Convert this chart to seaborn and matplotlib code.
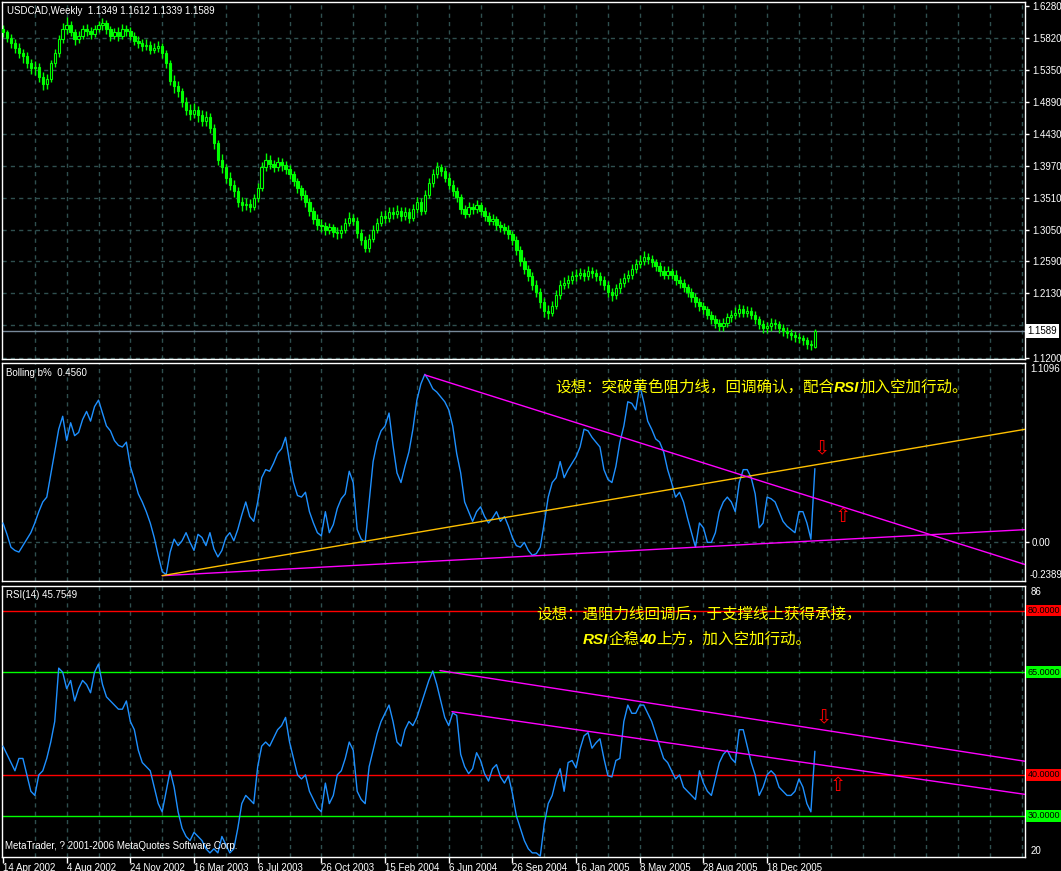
import numpy as np
import pandas as pd
import matplotlib
matplotlib.use("Agg")
import matplotlib.pyplot as plt
import seaborn as sns

# ---------------- data ----------------
title_text = "USDCAD,Weekly  1.1349 1.1612 1.1339 1.1589"
bb_title = "Bolling b%  0.4560"
rsi_title = "RSI(14) 45.7549"
copyright_text = "MetaTrader, ? 2001-2006 MetaQuotes Software Corp."

date_labels = ["14 Apr 2002", "4 Aug 2002", "24 Nov 2002", "16 Mar 2003", "6 Jul 2003",
               "26 Oct 2003", "15 Feb 2004", "6 Jun 2004", "26 Sep 2004", "16 Jan 2005",
               "8 May 2005", "28 Aug 2005", "18 Dec 2005"]
date_label_weeks = [0, 16, 32, 48, 64, 80, 96, 112, 128, 144, 160, 176, 192]

opens = [
    1.595, 1.590, 1.582, 1.575, 1.568, 1.560, 1.556, 1.546, 1.538, 1.540,
    1.525, 1.515, 1.522, 1.545, 1.560, 1.580, 1.595, 1.600, 1.590, 1.580,
    1.585, 1.595, 1.592, 1.588, 1.595, 1.600, 1.603, 1.595, 1.585, 1.590,
    1.585, 1.595, 1.592, 1.585, 1.578, 1.575, 1.570, 1.572, 1.565, 1.568,
    1.570, 1.560, 1.545, 1.520, 1.512, 1.505, 1.490, 1.478, 1.472, 1.478,
    1.470, 1.462, 1.468, 1.452, 1.430, 1.405, 1.395, 1.380, 1.370, 1.360,
    1.345, 1.340, 1.342, 1.338, 1.350, 1.365, 1.395, 1.405, 1.400, 1.395,
    1.402, 1.398, 1.392, 1.385, 1.375, 1.365, 1.355, 1.345, 1.332, 1.320,
    1.312, 1.310, 1.305, 1.308, 1.302, 1.300, 1.305, 1.315, 1.322, 1.318,
    1.300, 1.290, 1.278, 1.292, 1.305, 1.315, 1.325, 1.322, 1.330, 1.328,
    1.332, 1.325, 1.330, 1.322, 1.335, 1.345, 1.332, 1.355, 1.372, 1.385,
    1.395, 1.390, 1.380, 1.370, 1.360, 1.352, 1.335, 1.328, 1.338, 1.335,
    1.340, 1.332, 1.325, 1.318, 1.320, 1.312, 1.308, 1.305, 1.298, 1.290,
    1.275, 1.260, 1.248, 1.238, 1.225, 1.215, 1.200, 1.188, 1.185, 1.195,
    1.210, 1.225, 1.228, 1.232, 1.238, 1.240, 1.242, 1.238, 1.245, 1.242,
    1.238, 1.232, 1.225, 1.215, 1.210, 1.220, 1.228, 1.235, 1.240, 1.248,
    1.255, 1.260, 1.265, 1.262, 1.258, 1.252, 1.245, 1.240, 1.245, 1.240,
    1.232, 1.228, 1.222, 1.215, 1.208, 1.200, 1.195, 1.190, 1.182, 1.175,
    1.170, 1.165, 1.170, 1.178, 1.182, 1.185, 1.190, 1.185, 1.188, 1.182,
    1.175, 1.168, 1.162, 1.165, 1.170, 1.168, 1.162, 1.158, 1.155, 1.152,
    1.150, 1.148, 1.145, 1.140, 1.1349]

highs = [
    1.600, 1.594, 1.588, 1.580, 1.574, 1.566, 1.562, 1.552, 1.549, 1.546,
    1.532, 1.530, 1.550, 1.566, 1.586, 1.603, 1.612, 1.606, 1.595, 1.592,
    1.600, 1.602, 1.598, 1.601, 1.607, 1.610, 1.608, 1.599, 1.596, 1.597,
    1.602, 1.600, 1.597, 1.590, 1.585, 1.581, 1.580, 1.577, 1.575, 1.578,
    1.575, 1.565, 1.550, 1.528, 1.520, 1.510, 1.496, 1.486, 1.488, 1.484,
    1.477, 1.476, 1.474, 1.458, 1.435, 1.414, 1.400, 1.388, 1.376, 1.366,
    1.352, 1.350, 1.349, 1.357, 1.372, 1.402, 1.416, 1.412, 1.406, 1.410,
    1.408, 1.404, 1.398, 1.390, 1.380, 1.370, 1.362, 1.350, 1.338, 1.327,
    1.320, 1.316, 1.315, 1.313, 1.309, 1.312, 1.322, 1.330, 1.328, 1.323,
    1.306, 1.295, 1.298, 1.312, 1.322, 1.332, 1.333, 1.337, 1.338, 1.340,
    1.338, 1.337, 1.336, 1.342, 1.352, 1.350, 1.362, 1.380, 1.392, 1.403,
    1.400, 1.395, 1.386, 1.376, 1.367, 1.357, 1.341, 1.345, 1.344, 1.347,
    1.345, 1.338, 1.331, 1.327, 1.325, 1.318, 1.314, 1.311, 1.303, 1.295,
    1.281, 1.266, 1.254, 1.243, 1.232, 1.220, 1.206, 1.196, 1.202, 1.217,
    1.232, 1.236, 1.240, 1.245, 1.248, 1.250, 1.248, 1.252, 1.251, 1.248,
    1.243, 1.238, 1.230, 1.221, 1.226, 1.235, 1.242, 1.247, 1.255, 1.262,
    1.268, 1.274, 1.271, 1.268, 1.263, 1.258, 1.252, 1.252, 1.250, 1.246,
    1.238, 1.233, 1.227, 1.220, 1.213, 1.206, 1.201, 1.195, 1.188, 1.181,
    1.176, 1.177, 1.185, 1.189, 1.193, 1.198, 1.196, 1.195, 1.193, 1.187,
    1.180, 1.174, 1.172, 1.177, 1.176, 1.173, 1.168, 1.164, 1.161, 1.158,
    1.156, 1.153, 1.150, 1.146, 1.1612]

lows = [
    1.583, 1.576, 1.568, 1.560, 1.553, 1.545, 1.538, 1.530, 1.528, 1.518,
    1.506, 1.508, 1.518, 1.540, 1.555, 1.575, 1.588, 1.584, 1.572, 1.574,
    1.580, 1.585, 1.580, 1.583, 1.590, 1.594, 1.588, 1.578, 1.580, 1.578,
    1.581, 1.585, 1.579, 1.572, 1.568, 1.563, 1.564, 1.558, 1.560, 1.561,
    1.553, 1.538, 1.514, 1.503, 1.497, 1.482, 1.470, 1.463, 1.466, 1.461,
    1.455, 1.455, 1.445, 1.422, 1.398, 1.386, 1.372, 1.362, 1.352, 1.338,
    1.332, 1.333, 1.330, 1.333, 1.345, 1.360, 1.390, 1.392, 1.388, 1.389,
    1.390, 1.385, 1.378, 1.368, 1.358, 1.348, 1.338, 1.325, 1.313, 1.304,
    1.302, 1.297, 1.298, 1.294, 1.292, 1.293, 1.300, 1.310, 1.311, 1.293,
    1.282, 1.272, 1.273, 1.287, 1.300, 1.310, 1.315, 1.316, 1.320, 1.321,
    1.318, 1.319, 1.315, 1.317, 1.329, 1.326, 1.328, 1.350, 1.367, 1.380,
    1.383, 1.373, 1.363, 1.353, 1.345, 1.328, 1.321, 1.323, 1.328, 1.329,
    1.326, 1.318, 1.311, 1.312, 1.305, 1.301, 1.298, 1.291, 1.283, 1.268,
    1.253, 1.241, 1.231, 1.218, 1.208, 1.192, 1.178, 1.175, 1.180, 1.190,
    1.205, 1.219, 1.221, 1.226, 1.230, 1.233, 1.231, 1.232, 1.235, 1.231,
    1.225, 1.218, 1.208, 1.202, 1.204, 1.214, 1.222, 1.229, 1.234, 1.242,
    1.249, 1.254, 1.255, 1.251, 1.245, 1.238, 1.233, 1.233, 1.233, 1.225,
    1.221, 1.215, 1.208, 1.201, 1.193, 1.188, 1.183, 1.175, 1.168, 1.163,
    1.158, 1.159, 1.164, 1.172, 1.176, 1.179, 1.178, 1.179, 1.175, 1.168,
    1.161, 1.155, 1.156, 1.159, 1.161, 1.155, 1.151, 1.148, 1.145, 1.143,
    1.141, 1.138, 1.133, 1.131, 1.1339]

closes = [
    1.590, 1.582, 1.575, 1.568, 1.560, 1.556, 1.546, 1.538, 1.540, 1.525,
    1.515, 1.522, 1.545, 1.560, 1.580, 1.595, 1.600, 1.590, 1.580, 1.585,
    1.595, 1.592, 1.588, 1.595, 1.600, 1.603, 1.595, 1.585, 1.590, 1.585,
    1.595, 1.592, 1.585, 1.578, 1.575, 1.570, 1.572, 1.565, 1.568, 1.570,
    1.560, 1.545, 1.520, 1.512, 1.505, 1.490, 1.478, 1.472, 1.478, 1.470,
    1.462, 1.468, 1.452, 1.430, 1.405, 1.395, 1.380, 1.370, 1.360, 1.345,
    1.340, 1.342, 1.338, 1.350, 1.365, 1.395, 1.405, 1.400, 1.395, 1.402,
    1.398, 1.392, 1.385, 1.375, 1.365, 1.355, 1.345, 1.332, 1.320, 1.312,
    1.310, 1.305, 1.308, 1.302, 1.300, 1.305, 1.315, 1.322, 1.318, 1.300,
    1.290, 1.278, 1.292, 1.305, 1.315, 1.325, 1.322, 1.330, 1.328, 1.332,
    1.325, 1.330, 1.322, 1.335, 1.345, 1.332, 1.355, 1.372, 1.385, 1.395,
    1.390, 1.380, 1.370, 1.360, 1.352, 1.335, 1.328, 1.338, 1.335, 1.340,
    1.332, 1.325, 1.318, 1.320, 1.312, 1.308, 1.305, 1.298, 1.290, 1.275,
    1.260, 1.248, 1.238, 1.225, 1.215, 1.200, 1.188, 1.185, 1.195, 1.210,
    1.225, 1.228, 1.232, 1.238, 1.240, 1.242, 1.238, 1.245, 1.242, 1.238,
    1.232, 1.225, 1.215, 1.210, 1.220, 1.228, 1.235, 1.240, 1.248, 1.255,
    1.260, 1.265, 1.262, 1.258, 1.252, 1.245, 1.240, 1.245, 1.240, 1.232,
    1.228, 1.222, 1.215, 1.208, 1.200, 1.195, 1.190, 1.182, 1.175, 1.170,
    1.165, 1.170, 1.178, 1.182, 1.185, 1.190, 1.185, 1.188, 1.182, 1.175,
    1.168, 1.162, 1.165, 1.170, 1.168, 1.162, 1.158, 1.155, 1.152, 1.150,
    1.148, 1.145, 1.140, 1.138, 1.1589]

bpct = [
    0.12, 0.05, -0.03, -0.05, -0.06, -0.02, 0.02, 0.06, 0.12, 0.19,
    0.25, 0.28, 0.42, 0.56, 0.70, 0.78, 0.63, 0.74, 0.66, 0.68,
    0.76, 0.81, 0.75, 0.84, 0.88, 0.80, 0.72, 0.69, 0.63, 0.60,
    0.59, 0.62, 0.47, 0.39, 0.30, 0.25, 0.19, 0.12, 0.03, -0.08,
    -0.18, -0.20, -0.06, 0.02, -0.02, 0.01, 0.06, 0.00, -0.05, 0.05,
    0.03, -0.02, 0.06, -0.04, -0.09, -0.05, 0.03, 0.06, 0.01, 0.08,
    0.17, 0.25, 0.16, 0.13, 0.25, 0.40, 0.45, 0.44, 0.49, 0.55,
    0.58, 0.65, 0.50, 0.37, 0.29, 0.28, 0.31, 0.19, 0.12, 0.06,
    0.04, 0.19, 0.06, 0.11, 0.21, 0.27, 0.30, 0.44, 0.37, 0.08,
    0.02, 0.00, 0.25, 0.50, 0.62, 0.69, 0.72, 0.80, 0.60, 0.43,
    0.37, 0.47, 0.56, 0.70, 0.88, 0.98, 1.04, 1.00, 0.95, 0.93,
    0.90, 0.87, 0.82, 0.72, 0.55, 0.43, 0.25, 0.19, 0.13, 0.19,
    0.22, 0.16, 0.12, 0.15, 0.19, 0.13, 0.16, 0.10, 0.03, -0.02,
    -0.03, 0.00, -0.05, -0.08, -0.07, -0.03, 0.12, 0.28, 0.37, 0.40,
    0.50, 0.40, 0.45, 0.49, 0.53, 0.59, 0.70, 0.69, 0.65, 0.62,
    0.59, 0.45, 0.39, 0.37, 0.47, 0.62, 0.72, 0.87, 0.86, 0.82,
    0.97, 0.87, 0.75, 0.70, 0.64, 0.62, 0.56, 0.45, 0.37, 0.28,
    0.31, 0.25, 0.15, 0.06, -0.03, 0.12, 0.09, 0.00, 0.00, 0.06,
    0.19, 0.25, 0.28, 0.25, 0.19, 0.37, 0.45, 0.45, 0.40, 0.30,
    0.09, 0.12, 0.28, 0.27, 0.25, 0.19, 0.13, 0.10, 0.08, 0.06,
    0.19, 0.19, 0.12, 0.02, 0.456]

rsi = [
    47, 45, 43, 41, 44, 44, 40, 36, 35, 40,
    41, 44, 48, 53, 66, 65, 61, 63, 58, 61,
    63, 62, 60, 65, 67, 62, 59, 58, 57, 56,
    56, 58, 53, 51, 46, 43, 42, 41, 37, 33,
    31, 36, 41, 37, 31, 27, 25, 24, 26, 25,
    24, 22, 21, 22, 21, 25, 23, 21, 22, 27,
    33, 35, 34, 33, 42, 47, 48, 47, 49, 51,
    52, 54, 48, 44, 40, 39, 40, 36, 34, 32,
    31, 38, 33, 35, 40, 41, 44, 48, 46, 36,
    34, 33, 42, 46, 50, 53, 55, 57, 53, 48,
    47, 51, 53, 52, 54, 57, 60, 63, 65.3, 62,
    58, 54, 52, 55.1, 54.5, 45, 42, 40.3, 41.5, 45.4,
    43.5, 40.3, 38.5, 41.5, 42.5, 39.5, 38, 39.8, 35.5, 30,
    27, 24, 22, 21, 21, 20.2, 28, 33, 35, 39,
    41.5, 36, 43, 43.5, 41.7, 46.3, 49.5, 50.3, 46.5, 47.8,
    48.8, 44, 39.8, 39.5, 43.5, 44, 53, 57, 55, 55,
    57, 57, 55, 53, 50, 47, 44, 43, 41, 39,
    40, 37, 36, 35, 34, 41, 38, 36, 35, 39,
    43, 45, 46, 44, 43, 51, 51, 47, 43, 40,
    35, 37, 40, 41, 40, 37, 36, 35, 35, 36,
    39, 37, 33, 31, 45.7549]

price_ticks = [1.6280, 1.5820, 1.5350, 1.4890, 1.4430, 1.3970, 1.3510,
               1.3050, 1.2590, 1.2130, 1.1670, 1.1200]
last_price = 1.1589
bb_max, bb_min = 1.1096, -0.2389
rsi_max, rsi_min = 86, 20
rsi_levels = [80, 65, 40, 30]
rsi_level_colors = ["#FF0000", "#00FF00", "#FF0000", "#00FF00"]

# hand-drawn trend lines (anchor weeks, anchor values) -> rays to the right
bb_support = ([40, 174], [-0.206, -0.03])
bb_yellow = ([40, 187], [-0.206, 0.408])
bb_resist = ([106, 187], [1.036, 0.406])
rsi_upper = ([109.8, 195.0], [65.4, 52.6])
rsi_lower = ([112.8, 195.0], [55.4, 43.9])

note_bb = [("设想：突破黄色阻力线，回调确认，配合", "cjk"), ("RSI", "bi"), ("加入空加行动。", "cjk")]
note_rsi_1 = [("设想：遇阻力线回调后，于支撑线上获得承接，", "cjk")]
note_rsi_2 = [("RSI", "bi"), ("企稳", "cjk"), ("40", "bi"), ("上方，加入空加行动。", "cjk")]

# ---------------- layout ----------------
W, H = 1061, 871
sns.set_theme(style="dark")
plt.rcParams["font.family"] = ["Liberation Sans", "DejaVu Sans"]

fig = plt.figure(figsize=(W / 100, H / 100), dpi=100, facecolor="black")

def rect(x0, y0, x1, y1):
    return [x0 / W, 1 - y1 / H, (x1 - x0) / W, (y1 - y0) / H]

ax1 = fig.add_axes(rect(2, 2, 1025, 359))
ax2 = fig.add_axes(rect(2, 363, 1025, 581))
ax3 = fig.add_axes(rect(2, 586, 1025, 857))

XMIN, XMAX = -0.25, 256.8
GRID = "#2F4F4F"
FG = "white"
grid_weeks = np.arange(8, 257, 8)

for ax in (ax1, ax2, ax3):
    ax.set_facecolor("black")
    for s in ax.spines.values():
        s.set_color(FG)
        s.set_linewidth(1)
    ax.set_xlim(XMIN, XMAX)
    ax.grid(False)
    ax.yaxis.tick_right()
    ax.tick_params(axis="y", colors=FG, labelcolor=FG, labelsize=7, length=3,
                   width=1, direction="out", pad=2, left=False, right=True)
    ax.tick_params(axis="x", bottom=False, labelbottom=False)
    for w in grid_weeks:
        ax.axvline(w, color=GRID, lw=1, ls=(0, (3, 3)), zorder=0)

# ---- price candles ----
wk = np.arange(len(closes))
o = np.array(opens); c = np.array(closes)
h = np.array(highs); l = np.array(lows)
ax1.set_ylim(1.11792, 1.63378)
for p in price_ticks[1:]:
    ax1.axhline(p, color=GRID, lw=1, ls=(0, (3, 3)), zorder=0)
ax1.axhline(last_price, color="#778899", lw=1, zorder=1)
ax1.vlines(wk, l, h, color="#00FF00", lw=1, zorder=2)
up = c >= o
ax1.bar(wk[up], np.maximum((c - o)[up], 0.0005), bottom=o[up], width=0.6,
        color="black", edgecolor="#00FF00", linewidth=0.8, zorder=3)
ax1.bar(wk[~up], (o - c)[~up], bottom=c[~up], width=0.6,
        color="#00FF00", edgecolor="#00FF00", linewidth=0.8, zorder=3)
ax1.set_yticks(price_ticks)
# the 1.1670 label sits under the current-price box, as in MetaTrader
ax1.set_yticklabels([f"{p:.4f}" if abs(p - 1.1670) > 1e-6 else "" for p in price_ticks])
ax1.annotate(f"{last_price:.4f}", xy=(1, last_price), xycoords=("axes fraction", "data"),
             xytext=(2, 0), textcoords="offset points", va="center", ha="left",
             fontsize=7, color="black",
             bbox=dict(boxstyle="square,pad=0.2", fc="white", ec="none"),
             annotation_clip=False, zorder=10)

# ---- Bollinger b% ----
def ray(ax, anchors, color):
    xs, ys = anchors
    slope = (ys[1] - ys[0]) / (xs[1] - xs[0])
    ax.plot([xs[0], XMAX], [ys[0], ys[0] + slope * (XMAX - xs[0])], color=color,
            lw=1, zorder=4, clip_on=True)

ax2.set_ylim(bb_min, bb_max)
ax2.axhline(0.0, color=GRID, lw=1, ls=(0, (3, 3)), zorder=0)
sns.lineplot(x=wk, y=bpct, ax=ax2, color="#1E90FF", lw=1, zorder=3, legend=False)
ray(ax2, bb_support, "#FF00FF")
ray(ax2, bb_yellow, "#FFC000")
ray(ax2, bb_resist, "#FF00FF")
ax2.set_yticks([0.0])
ax2.set_yticklabels(["0.00"])
ax2.set_xlim(XMIN, XMAX)
ax2.set_xlabel(""); ax2.set_ylabel("")
ax2.annotate(f"{bb_max:.4f}", xy=(1, 1), xycoords="axes fraction", xytext=(4, -1),
             textcoords="offset points", color=FG, fontsize=7, ha="left", va="top",
             annotation_clip=False)
ax2.annotate(f"{bb_min:.4f}", xy=(1, 0), xycoords="axes fraction", xytext=(3, 1),
             textcoords="offset points", color=FG, fontsize=7, ha="left", va="bottom",
             annotation_clip=False)

# ---- RSI ----
ax3.set_ylim(rsi_min, rsi_max)
for lev, col in zip(rsi_levels, rsi_level_colors):
    ax3.axhline(lev, color=col, lw=1, zorder=1)
sns.lineplot(x=wk, y=rsi, ax=ax3, color="#1E90FF", lw=1, zorder=3, legend=False)
ray(ax3, rsi_upper, "#FF00FF")
ray(ax3, rsi_lower, "#FF00FF")
ax3.set_xlim(XMIN, XMAX)
ax3.set_xlabel(""); ax3.set_ylabel("")
ax3.set_yticks(rsi_levels)
ax3.set_yticklabels([""] * len(rsi_levels))
for lev, col in zip(rsi_levels, rsi_level_colors):
    ax3.annotate(f"{lev:.4f}", xy=(1, lev), xycoords=("axes fraction", "data"),
                 xytext=(2, 0), textcoords="offset points", va="center", ha="left",
                 fontsize=6.5, color="black",
                 bbox=dict(boxstyle="square,pad=0.15", fc=col, ec="none"),
                 annotation_clip=False)
ax3.annotate(f"{rsi_max}", xy=(1, 1), xycoords="axes fraction", xytext=(4, -1),
             textcoords="offset points", color=FG, fontsize=7, ha="left", va="top",
             annotation_clip=False)
ax3.annotate(f"{rsi_min}", xy=(1, 0), xycoords="axes fraction", xytext=(4, 1),
             textcoords="offset points", color=FG, fontsize=7, ha="left", va="bottom",
             annotation_clip=False)

ax3.set_xticks(date_label_weeks)
ax3.set_xticklabels(date_labels)
ax3.tick_params(axis="x", bottom=True, labelbottom=True, colors=FG, labelcolor=FG,
                labelsize=7, length=4, width=1, direction="out", pad=0)
for t in ax3.get_xticklabels():
    t.set_horizontalalignment("left")

# ---- texts ----
def px(x, y):
    return (x / W, 1 - y / H)

fig.text(*px(7, 10.5), title_text, color=FG, fontsize=7, va="center", ha="left")
fig.text(*px(6, 373), bb_title, color=FG, fontsize=7, va="center", ha="left")
fig.text(*px(6, 595), rsi_title, color=FG, fontsize=7, va="center", ha="left")
fig.text(*px(5, 846), copyright_text, color=FG, fontsize=7, va="center", ha="left")

fonts = {
    "cjk": dict(family=["Noto Sans CJK SC", "DejaVu Sans"], fontsize=11.2),
    "bi": dict(family=["Liberation Sans"], fontsize=11, weight="bold", style="italic"),
}
renderer = fig.canvas.get_renderer()

def rich(x, y, parts):
    xcur = x
    for s, f in parts:
        t = fig.text(xcur / W, 1 - y / H, s, color="#FFFF00", va="baseline", ha="left", **fonts[f])
        bb = t.get_window_extent(renderer)
        xcur = bb.x1

rich(555, 392, note_bb)
rich(536, 619, note_rsi_1)
rich(583, 644, note_rsi_2)

# arrows (annotation marks)
arrow_kw = dict(color="#FF0000", fontsize=14, ha="center", va="center", family="DejaVu Sans")
ax2.text(205.8, 0.58, "⇩", **arrow_kw)
ax2.text(211.0, 0.16, "⇧", **arrow_kw)
ax3.text(206.3, 54.0, "⇩", **arrow_kw)
ax3.text(209.8, 37.4, "⇧", **arrow_kw)

fig.savefig("out.png", dpi=100, facecolor="black")
